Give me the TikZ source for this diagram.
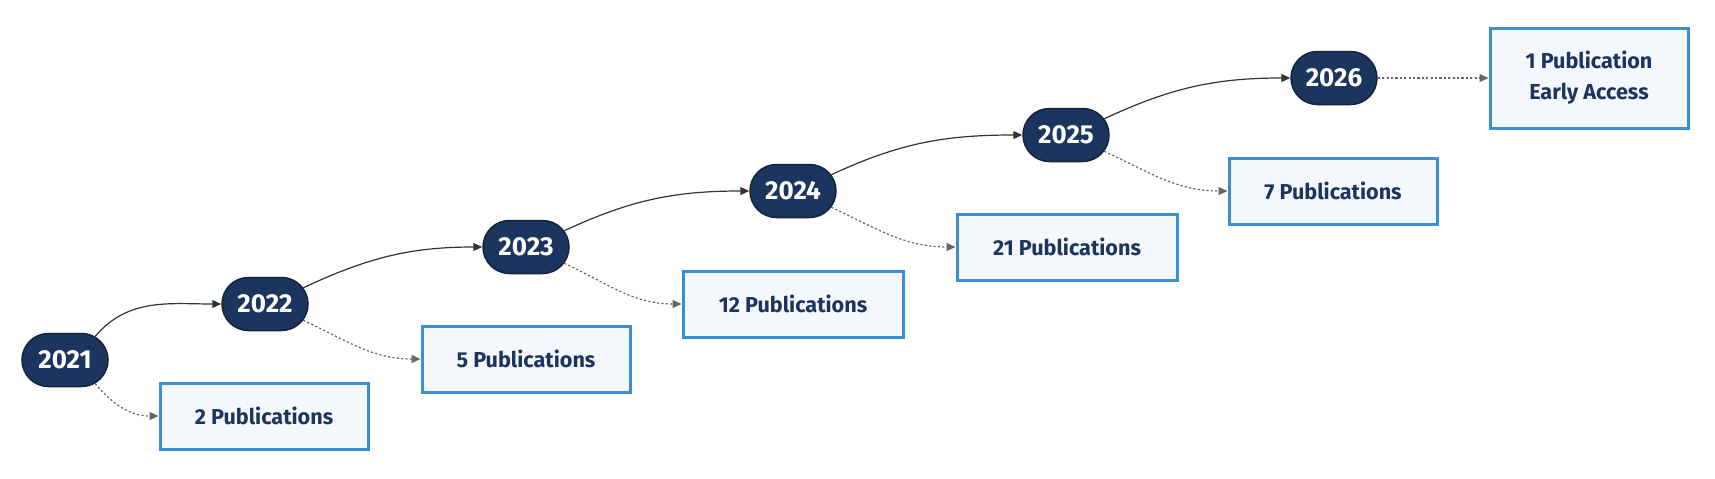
\documentclass[tikz,border=0pt]{standalone}
\usepackage{fontspec}
\setmainfont{Fira Sans}
\usetikzlibrary{shapes.misc,arrows.meta}
\definecolor{navy}{HTML}{1C355E}
\definecolor{navyborder}{HTML}{13233F}
\definecolor{boxfill}{HTML}{F4F8FC}
\definecolor{boxborder}{HTML}{3B8DD8}
\definecolor{edgecol}{HTML}{333333}
\definecolor{dotcol}{HTML}{666666}
\tikzset{
  year/.style={rounded rectangle, fill=navy, draw=navyborder, line width=0.75pt,
    minimum width=43pt, minimum height=26.5pt, inner sep=0pt, text=white,
    font=\fontsize{13}{15}\selectfont\bfseries},
  pub/.style={rectangle, fill=boxfill, draw=boxborder, line width=1.5pt,
    minimum height=33pt, inner sep=0pt, text=navy, align=center,
    font=\fontsize{10.8}{15.5}\selectfont\bfseries},
  yearedge/.style={draw=edgecol, line width=0.6pt, -{Triangle[length=4.5pt,width=4pt]}},
  pubedge/.style={draw=dotcol, line width=0.6pt, dash pattern=on 1.1pt off 1.1pt,
    -{Triangle[length=4.5pt,width=4pt]}}
}
\begin{document}
\begin{tikzpicture}[x=0.5pt,y=-0.5pt]
\useasboundingbox (0,0) rectangle (1715,478);
% year nodes
\node[year] (y21) at (65,360) {2021};
\node[year] (y22) at (265,304) {2022};
\node[year] (y23) at (526,247) {2023};
\node[year] (y24) at (793,191) {2024};
\node[year] (y25) at (1066,135) {2025};
\node[year] (y26) at (1334,78) {2026};
% publication boxes
\node[pub, minimum width=104pt] (p21) at (264,416) {2 Publications};
\node[pub, minimum width=104pt] (p22) at (526,359) {5 Publications};
\node[pub, minimum width=110pt] (p23) at (793,304) {12 Publications};
\node[pub, minimum width=110pt] (p24) at (1067,247) {21 Publications};
\node[pub, minimum width=104pt] (p25) at (1333,191) {7 Publications};
\node[pub, minimum width=99pt, minimum height=50pt] (p26) at (1589,78) {1 Publication\\Early Access};
% year to year
\draw[yearedge] (y21.38) to[out=50,in=180] (y22.west);
\draw[yearedge] (y22.23) to[out=25,in=180] (y23.west);
\draw[yearedge] (y23.23) to[out=25,in=180] (y24.west);
\draw[yearedge] (y24.23) to[out=25,in=180] (y25.west);
\draw[yearedge] (y25.23) to[out=25,in=180] (y26.west);
% year to publications
\draw[pubedge] (y21.-38) to[out=-50,in=180] (p21.west);
\draw[pubedge] (y22.-23) to[out=-25,in=180] (p22.west);
\draw[pubedge] (y23.-23) to[out=-25,in=180] (p23.west);
\draw[pubedge] (y24.-23) to[out=-25,in=180] (p24.west);
\draw[pubedge] (y25.-23) to[out=-25,in=180] (p25.west);
\draw[pubedge] (y26.east) -- (p26.west);
\end{tikzpicture}
\end{document}
